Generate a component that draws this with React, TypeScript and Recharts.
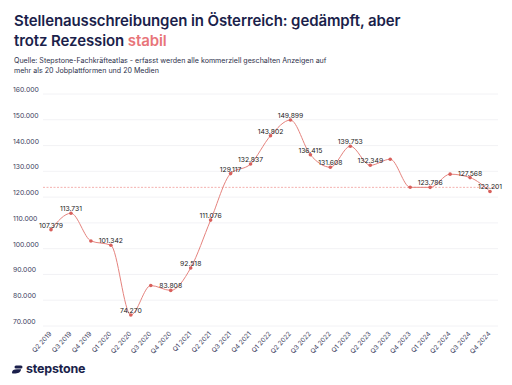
import React from 'react';
import { LineChart, Line, XAxis, YAxis, CartesianGrid, ReferenceLine, LabelList } from 'recharts';

const categories = ['Q2 2019','Q3 2019','Q4 2019','Q1 2020','Q2 2020','Q3 2020','Q4 2020','Q1 2021','Q2 2021','Q3 2021','Q4 2021','Q1 2022','Q2 2022','Q3 2022','Q4 2022','Q1 2023','Q2 2023','Q3 2023','Q4 2023','Q1 2024','Q2 2024','Q3 2024','Q4 2024'];
const values = [107379,113731,103000,101342,74270,85700,83808,92518,111076,129117,132837,143802,149899,136415,131608,139753,132349,134700,123800,123786,128900,127568,122201];
const showLabel = [true,true,false,true,true,false,true,true,true,true,true,true,true,true,true,true,true,false,false,true,false,true,true];
const yTicks = [70000,80000,90000,100000,110000,120000,130000,140000,150000,160000];
const referenceValue = 123786;

const data = categories.map((c, i) => ({ cat: c, value: values[i], show: showLabel[i] }));

const fmt = (v: number) => String(v).replace(/\B(?=(\d{3})+(?!\d))/g, '.');

const NAVY = '#1b1f4b';
const AXIS = '#3b3e5e';
const FONT = 'Inter, "Noto Sans", sans-serif';

const YTick = (props: any) => {
  const { y, payload } = props;
  return (
    <text x={13} y={y - 2} fontSize={6.8} fill={AXIS} fontFamily={FONT} textAnchor="start">
      {fmt(payload.value)}
    </text>
  );
};

const XTick = (props: any) => {
  const { x, y, payload } = props;
  return (
    <g transform={`translate(${x + 1},${y})`}>
      <text x={0} y={0} fontSize={6.5} fill={AXIS} fontFamily={FONT} textAnchor="end" transform="rotate(-48)">
        {payload.value}
      </text>
    </g>
  );
};

const PointLabel = (props: any) => {
  const { x, y, value, index } = props;
  if (!data[index] || !data[index].show) return null;
  return (
    <text x={x} y={y - 2} fontSize={6.8} fill="#222" fontFamily={FONT} textAnchor="middle">
      {fmt(value)}
    </text>
  );
};

const Logo = () => (
  <div style={{ position: 'absolute', left: 11, top: 362, display: 'flex', alignItems: 'center' }}>
    <svg width={12} height={12} viewBox="0 0 12 12">
      <rect x={3.5} y={2.5} width={8} height={3} rx={1.5} fill={NAVY} />
      <path d="M1 9.5 C1 7.2 3 6.3 6 6.3 L10 6.3 C10 8.5 8 10.5 4.5 10.5 L2 10.5 C1.4 10.5 1 10.1 1 9.5 Z" fill={NAVY} />
    </svg>
    <span style={{ marginLeft: 3, fontFamily: FONT, fontWeight: 700, fontSize: 12.5, color: NAVY, letterSpacing: -0.2, lineHeight: '14px' }}>stepstone</span>
  </div>
);

export default function App() {
  return (
    <div style={{ position: 'absolute', left: 0, top: 0, width: 512, height: 385, background: '#fff', overflow: 'hidden' }}>
      <div style={{ position: 'absolute', left: 14, top: 11, fontFamily: FONT, fontWeight: 600, fontSize: 15, lineHeight: '20px', color: NAVY, letterSpacing: -0.1 }}>
        Stellenausschreibungen in Österreich: gedämpft, aber<br />
        trotz Rezession <span style={{ color: '#e8757a' }}>stabil</span>
      </div>
      <div style={{ position: 'absolute', left: 14, top: 56, fontFamily: FONT, fontSize: 7.1, lineHeight: '10px', color: '#2c2f4a' }}>
        Quelle: Stepstone-Fachkräfteatlas - erfasst werden alle kommerziell geschalten Anzeigen auf<br />
        mehr als 20 Jobplattformen und 20 Medien
      </div>
      <div style={{ position: 'absolute', left: 0, top: 0 }}>
        <LineChart width={512} height={385} data={data} margin={{ top: 94, right: 14, bottom: 29, left: 0 }}>
          <CartesianGrid vertical={false} stroke="#efeff2" strokeWidth={0.8} />
          <XAxis dataKey="cat" axisLine={false} tickLine={false} interval={0} height={30} padding={{ left: 8, right: 8 }} tick={<XTick />} />
          <YAxis domain={[70000, 160000]} ticks={yTicks} width={43} axisLine={false} tickLine={false} tick={<YTick />} interval={0} />
          <ReferenceLine y={referenceValue} stroke="#f3a9a6" strokeDasharray="2 1.5" strokeWidth={0.9} />
          <Line type="monotone" dataKey="value" stroke="#e5837e" strokeWidth={1} isAnimationActive={false}
            dot={{ r: 1.8, fill: '#d8605c', stroke: 'none' }} activeDot={false}>
            <LabelList dataKey="value" content={<PointLabel />} />
          </Line>
        </LineChart>
      </div>
      <Logo />
    </div>
  );
}
